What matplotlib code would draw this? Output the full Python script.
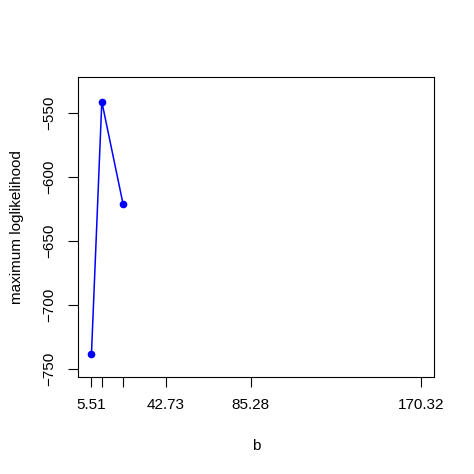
import matplotlib
matplotlib.use("Agg")
import matplotlib.pyplot as plt

b_values = [5.51, 10.68, 21.36]
loglik = [-738.0, -541.0, -621.4]
x_ticks = [5.51, 10.68, 21.36, 42.73, 85.28, 170.32]
x_tick_labels = ["5.51", "", "", "42.73", "85.28", "170.32"]
y_ticks = [-750, -700, -650, -600, -550]

plt.rcParams['font.family'] = ['Liberation Sans', 'DejaVu Sans']
fig = plt.figure(figsize=(4.74, 4.74), dpi=100)
ax = fig.add_axes([78.3/474, 1-376.7/474, (434-78.3)/474, (376.7-77.3)/474])
ax.plot(b_values, loglik, color='#0000FF', lw=1.1, marker='o', ms=4.5)
span = x_ticks[-1] - x_ticks[0]
ax.set_xlim(x_ticks[0] - 0.04*span, x_ticks[-1] + 0.04*span)
ax.set_ylim(-756, -522)
ax.set_xticks(x_ticks)
ax.set_xticklabels(x_tick_labels, fontsize=11)
ax.set_yticks(y_ticks)
ax.set_yticklabels([str(v).replace('-', '\u2212') for v in y_ticks], fontsize=11, rotation=90, va='center')
ax.tick_params(axis='x', direction='out', length=7, width=0.8, pad=8)
ax.tick_params(axis='y', direction='out', length=7, width=0.8, pad=9)
for s in ax.spines.values():
    s.set_linewidth(0.8)
ax.set_xlabel('b', fontsize=11, labelpad=20)
ax.set_ylabel('maximum loglikelihood', fontsize=11, labelpad=13)
fig.savefig('out.png', dpi=100)
